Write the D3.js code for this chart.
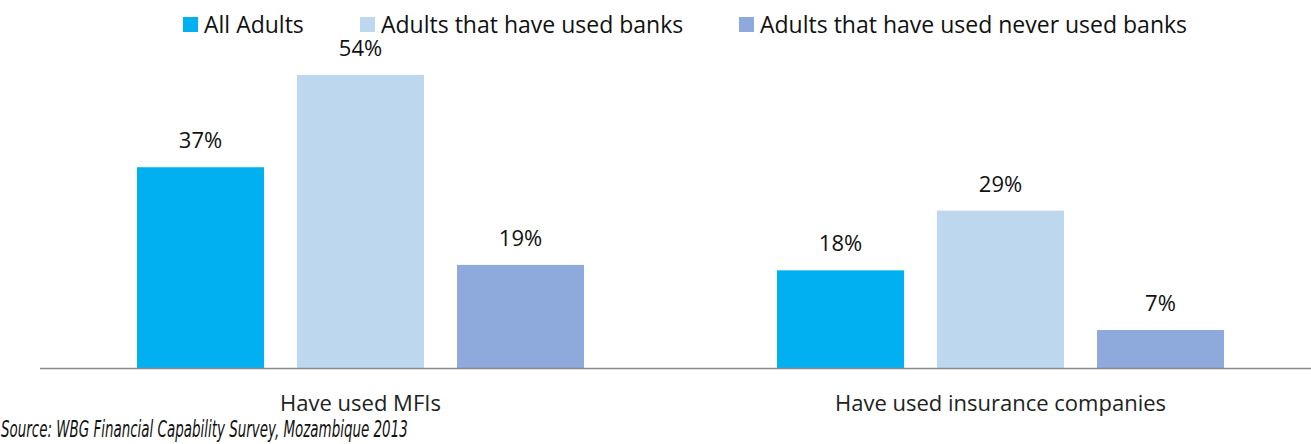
<!DOCTYPE html>
<meta charset="utf-8">
<style>
body { margin: 0; background: #fff; }
.value { font: 22px "Open Sans", sans-serif; fill: #111; text-anchor: middle; }
.cat { font: 22px "Open Sans", sans-serif; fill: #222; text-anchor: middle; }
.legend text { font: 23px "Open Sans", sans-serif; fill: #111; }
.source { font-family: "DejaVu Sans", sans-serif; font-style: italic; font-size: 23px; fill: #111; }
.baseline { stroke: #8a8a8a; stroke-width: 1.5px; }
</style>
<svg width="1311" height="444"></svg>
<script src="https://d3js.org/d3.v7.min.js"></script>
<script>

// data
var categories = ["Have used MFIs", "Have used insurance companies"];
var series = ["All Adults", "Adults that have used banks", "Adults that have used never used banks"];
var allAdults = [37, 18];
var usedBanks = [54, 29];
var neverBanks = [19, 7];
var colors = ["#00B0F0", "#BDD7EE", "#8EA9DB"];

var values = [allAdults, usedBanks, neverBanks];

var svg = d3.select("svg");

var x0 = d3.scaleBand().domain(categories).range([40.5, 1320.5]),
    x1 = d3.scaleBand().domain(series).range([96.5, 543.5]).paddingInner(33 / 160),
    y = d3.scaleLinear().domain([0, 54]).range([368, 75]);

var groups = svg.selectAll(".group")
    .data(categories)
  .enter().append("g")
    .attr("class", "group")
    .attr("transform", function(d) { return "translate(" + x0(d) + ",0)"; });

groups.selectAll("rect")
    .data(function(d, i) { return series.map(function(s, j) { return {s: s, v: values[j][i], c: colors[j]}; }); })
  .enter().append("rect")
    .attr("x", function(d) { return x1(d.s); })
    .attr("width", x1.bandwidth())
    .attr("y", function(d) { return y(d.v); })
    .attr("height", function(d) { return y(0) - y(d.v); })
    .attr("fill", function(d) { return d.c; });

groups.selectAll(".value")
    .data(function(d, i) { return series.map(function(s, j) { return {s: s, v: values[j][i]}; }); })
  .enter().append("text")
    .attr("class", "value")
    .attr("x", function(d) { return x1(d.s) + x1.bandwidth() / 2; })
    .attr("y", function(d) { return y(d.v) - 19; })
    .text(function(d) { return d.v + "%"; });

svg.append("line")
    .attr("class", "baseline")
    .attr("x1", 40).attr("x2", 1311)
    .attr("y1", 368.5).attr("y2", 368.5);

svg.selectAll(".cat")
    .data(categories)
  .enter().append("text")
    .attr("class", "cat")
    .attr("x", function(d) { return x0(d) + x0.bandwidth() / 2; })
    .attr("y", 411)
    .text(function(d) { return d; });

// legend
var legendX = [183, 360, 739];
var legend = svg.append("g").attr("class", "legend")
    .selectAll("g")
    .data(series)
  .enter().append("g")
    .attr("transform", function(d, i) { return "translate(" + legendX[i] + ",17)"; });

legend.append("rect")
    .attr("width", 15).attr("height", 15)
    .attr("fill", function(d, i) { return colors[i]; });

legend.append("text")
    .attr("x", 21).attr("y", 16)
    .text(function(d) { return d; });

// source line, squeezed horizontally to the reference width
var src = svg.append("text")
    .attr("class", "source")
    .text("Source: WBG Financial Capability Survey, Mozambique 2013");
var w = src.node().getComputedTextLength();
src.attr("transform", "translate(1,437) scale(" + (407 / w) + ",1)");

</script>
